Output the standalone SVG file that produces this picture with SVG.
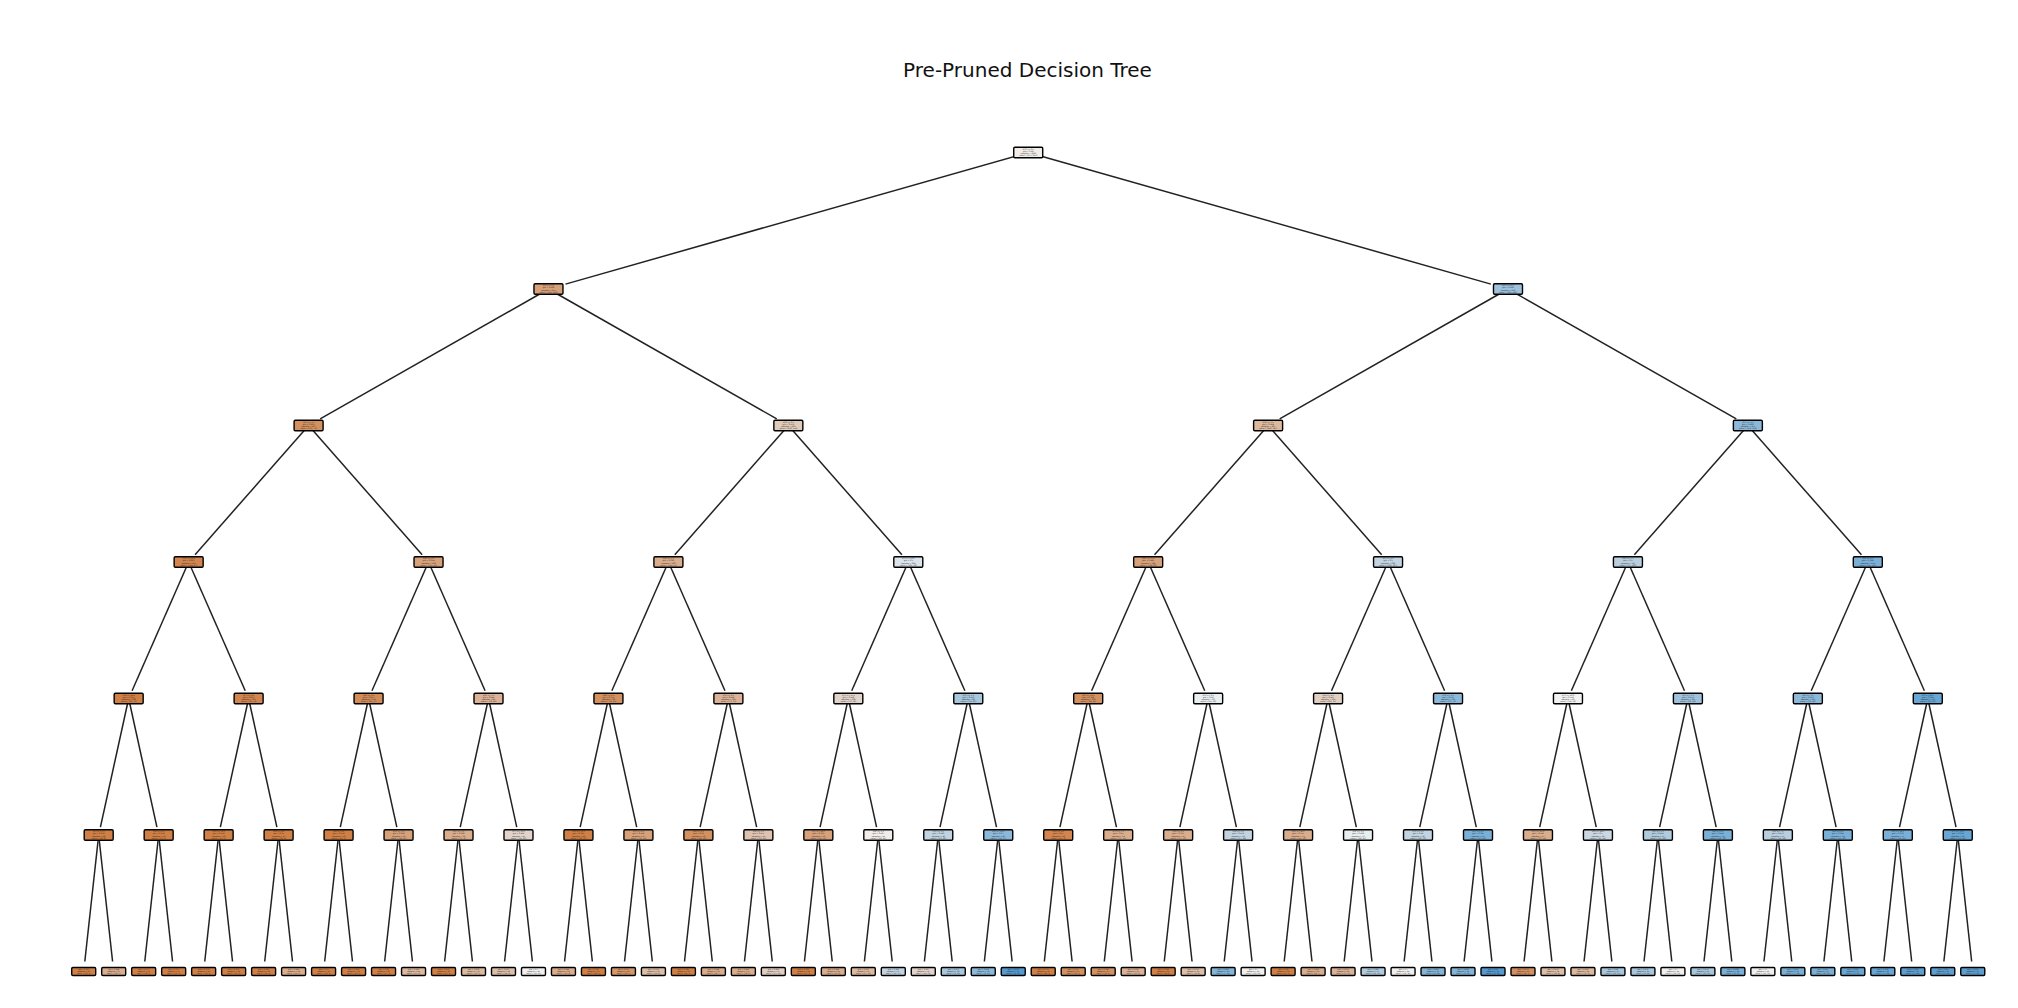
<svg xmlns="http://www.w3.org/2000/svg" xmlns:xlink="http://www.w3.org/1999/xlink" width="2018" height="1008" viewBox="0 0 2018 1008">
<style>
.title{font-family:"DejaVu Sans","Liberation Sans",sans-serif;font-size:20px;fill:#111;text-anchor:middle}
.ti{font-family:"DejaVu Sans","Liberation Sans",sans-serif;font-size:1.9px;fill:#1a1a1a;text-anchor:middle}
.tl{font-family:"DejaVu Sans","Liberation Sans",sans-serif;font-size:1.8px;fill:#1a1a1a;text-anchor:middle}
#connectors path{fill:none;stroke:#222;stroke-width:1.5}
</style>
<defs>
<rect id="ib" x="-14.5" y="-5.25" width="29" height="10.5" rx="1.2" stroke="#000" stroke-width="1.4"/>
<rect id="lb" x="-12" y="-4" width="24" height="8" rx="1.2" stroke="#000" stroke-width="1.4"/>
</defs>
<rect width="2018" height="1008" fill="#fff"/>
<text class="title" x="1027.5" y="76.5">Pre-Pruned Decision Tree</text>
<g id="connectors">
<path d="M1028.23 152.5L565.5 284.1"/><path d="M1028.23 152.5L1490.9 284.1"/>
<path d="M548.47 289L320.17 418.9"/><path d="M548.47 289L776.77 418.9"/><path d="M1507.99 289L1279.69 418.9"/><path d="M1507.99 289L1736.29 418.9"/>
<path d="M308.59 425.5L195.04 554.7"/><path d="M308.59 425.5L422.14 554.7"/><path d="M788.35 425.5L674.8 554.7"/><path d="M788.35 425.5L901.9 554.7"/><path d="M1268.11 425.5L1154.56 554.7"/><path d="M1268.11 425.5L1381.66 554.7"/><path d="M1747.87 425.5L1634.32 554.7"/><path d="M1747.87 425.5L1861.42 554.7"/>
<path d="M188.65 562L132.08 690.8"/><path d="M188.65 562L245.22 690.8"/><path d="M428.53 562L371.96 690.8"/><path d="M428.53 562L485.1 690.8"/><path d="M668.41 562L611.84 690.8"/><path d="M668.41 562L724.98 690.8"/><path d="M908.29 562L851.72 690.8"/><path d="M908.29 562L964.86 690.8"/><path d="M1148.17 562L1091.6 690.8"/><path d="M1148.17 562L1204.74 690.8"/><path d="M1388.05 562L1331.48 690.8"/><path d="M1388.05 562L1444.62 690.8"/><path d="M1627.93 562L1571.36 690.8"/><path d="M1627.93 562L1684.5 690.8"/><path d="M1867.81 562L1811.24 690.8"/><path d="M1867.81 562L1924.38 690.8"/>
<path d="M128.68 698.5L100.42 827.1"/><path d="M128.68 698.5L156.93 827.1"/><path d="M248.62 698.5L220.36 827.1"/><path d="M248.62 698.5L276.87 827.1"/><path d="M368.56 698.5L340.3 827.1"/><path d="M368.56 698.5L396.81 827.1"/><path d="M488.5 698.5L460.24 827.1"/><path d="M488.5 698.5L516.75 827.1"/><path d="M608.44 698.5L580.18 827.1"/><path d="M608.44 698.5L636.69 827.1"/><path d="M728.38 698.5L700.12 827.1"/><path d="M728.38 698.5L756.63 827.1"/><path d="M848.32 698.5L820.06 827.1"/><path d="M848.32 698.5L876.57 827.1"/><path d="M968.26 698.5L940 827.1"/><path d="M968.26 698.5L996.51 827.1"/><path d="M1088.2 698.5L1059.94 827.1"/><path d="M1088.2 698.5L1116.45 827.1"/><path d="M1208.14 698.5L1179.88 827.1"/><path d="M1208.14 698.5L1236.39 827.1"/><path d="M1328.08 698.5L1299.82 827.1"/><path d="M1328.08 698.5L1356.33 827.1"/><path d="M1448.02 698.5L1419.76 827.1"/><path d="M1448.02 698.5L1476.27 827.1"/><path d="M1567.96 698.5L1539.7 827.1"/><path d="M1567.96 698.5L1596.21 827.1"/><path d="M1687.9 698.5L1659.64 827.1"/><path d="M1687.9 698.5L1716.15 827.1"/><path d="M1807.84 698.5L1779.58 827.1"/><path d="M1807.84 698.5L1836.09 827.1"/><path d="M1927.78 698.5L1899.52 827.1"/><path d="M1927.78 698.5L1956.03 827.1"/>
<path d="M98.69 835L84.8 961.5"/><path d="M98.69 835L112.59 961.5"/><path d="M158.66 835L144.77 961.5"/><path d="M158.66 835L172.56 961.5"/><path d="M218.63 835L204.74 961.5"/><path d="M218.63 835L232.53 961.5"/><path d="M278.6 835L264.71 961.5"/><path d="M278.6 835L292.5 961.5"/><path d="M338.57 835L324.68 961.5"/><path d="M338.57 835L352.47 961.5"/><path d="M398.54 835L384.65 961.5"/><path d="M398.54 835L412.44 961.5"/><path d="M458.51 835L444.62 961.5"/><path d="M458.51 835L472.41 961.5"/><path d="M518.48 835L504.59 961.5"/><path d="M518.48 835L532.38 961.5"/>
<path d="M578.45 835L564.56 961.5"/><path d="M578.45 835L592.35 961.5"/><path d="M638.42 835L624.53 961.5"/><path d="M638.42 835L652.32 961.5"/><path d="M698.39 835L684.5 961.5"/><path d="M698.39 835L712.29 961.5"/><path d="M758.36 835L744.47 961.5"/><path d="M758.36 835L772.26 961.5"/><path d="M818.33 835L804.44 961.5"/><path d="M818.33 835L832.23 961.5"/><path d="M878.3 835L864.41 961.5"/><path d="M878.3 835L892.2 961.5"/><path d="M938.27 835L924.38 961.5"/><path d="M938.27 835L952.17 961.5"/><path d="M998.24 835L984.35 961.5"/><path d="M998.24 835L1012.14 961.5"/>
<path d="M1058.21 835L1044.32 961.5"/><path d="M1058.21 835L1072.11 961.5"/><path d="M1118.18 835L1104.29 961.5"/><path d="M1118.18 835L1132.08 961.5"/><path d="M1178.15 835L1164.26 961.5"/><path d="M1178.15 835L1192.05 961.5"/><path d="M1238.12 835L1224.23 961.5"/><path d="M1238.12 835L1252.02 961.5"/><path d="M1298.09 835L1284.2 961.5"/><path d="M1298.09 835L1311.99 961.5"/><path d="M1358.06 835L1344.17 961.5"/><path d="M1358.06 835L1371.96 961.5"/><path d="M1418.03 835L1404.14 961.5"/><path d="M1418.03 835L1431.93 961.5"/><path d="M1478 835L1464.11 961.5"/><path d="M1478 835L1491.9 961.5"/>
<path d="M1537.97 835L1524.08 961.5"/><path d="M1537.97 835L1551.87 961.5"/><path d="M1597.94 835L1584.05 961.5"/><path d="M1597.94 835L1611.84 961.5"/><path d="M1657.91 835L1644.02 961.5"/><path d="M1657.91 835L1671.81 961.5"/><path d="M1717.88 835L1703.99 961.5"/><path d="M1717.88 835L1731.78 961.5"/><path d="M1777.85 835L1763.96 961.5"/><path d="M1777.85 835L1791.75 961.5"/><path d="M1837.82 835L1823.93 961.5"/><path d="M1837.82 835L1851.72 961.5"/><path d="M1897.79 835L1883.9 961.5"/><path d="M1897.79 835L1911.69 961.5"/><path d="M1957.76 835L1943.87 961.5"/><path d="M1957.76 835L1971.66 961.5"/>
</g>
<g id="n1" transform="translate(1028.23 152.5)"><use href="#ib" fill="#f1ede9"/><text class="ti"><tspan x="0" y="-2.9">X[3] &lt;= 0.5</tspan><tspan x="0" y="-0.7">gini = 0.48</tspan><tspan x="0" y="1.5">samples = 1629</tspan><tspan x="0" y="3.7">value = [977, 652]</tspan></text></g>
<g id="n2" transform="translate(548.47 289)"><use href="#ib" fill="#d7a17a"/><text class="ti"><tspan x="0" y="-2.9">X[1] &lt;= 2.5</tspan><tspan x="0" y="-0.7">gini = 0.402</tspan><tspan x="0" y="1.5">samples = 811</tspan><tspan x="0" y="3.7">value = [585, 226]</tspan></text></g>
<g id="n3" transform="translate(1507.99 289)"><use href="#ib" fill="#9ec2dd"/><text class="ti"><tspan x="0" y="-2.9">X[0] &lt;= 41.5</tspan><tspan x="0" y="-0.7">gini = 0.499</tspan><tspan x="0" y="1.5">samples = 818</tspan><tspan x="0" y="3.7">value = [392, 426]</tspan></text></g>
<g id="n4" transform="translate(308.59 425.5)"><use href="#ib" fill="#d49160"/><text class="ti"><tspan x="0" y="-2.9">X[5] &lt;= 1.5</tspan><tspan x="0" y="-0.7">gini = 0.291</tspan><tspan x="0" y="1.5">samples = 407</tspan><tspan x="0" y="3.7">value = [335, 72]</tspan></text></g>
<g id="n5" transform="translate(788.35 425.5)"><use href="#ib" fill="#e0cab9"/><text class="ti"><tspan x="0" y="-2.9">X[2] &lt;= 0.5</tspan><tspan x="0" y="-0.7">gini = 0.472</tspan><tspan x="0" y="1.5">samples = 404</tspan><tspan x="0" y="3.7">value = [250, 154]</tspan></text></g>
<g id="n6" transform="translate(1268.11 425.5)"><use href="#ib" fill="#ddb99e"/><text class="ti"><tspan x="0" y="-2.9">X[4] &lt;= 3.5</tspan><tspan x="0" y="-0.7">gini = 0.484</tspan><tspan x="0" y="1.5">samples = 407</tspan><tspan x="0" y="3.7">value = [240, 167]</tspan></text></g>
<g id="n7" transform="translate(1747.87 425.5)"><use href="#ib" fill="#8cb9da"/><text class="ti"><tspan x="0" y="-2.9">X[1] &lt;= 4.5</tspan><tspan x="0" y="-0.7">gini = 0.466</tspan><tspan x="0" y="1.5">samples = 411</tspan><tspan x="0" y="3.7">value = [152, 259]</tspan></text></g>
<g id="n8" transform="translate(188.65 562)"><use href="#ib" fill="#d2854e"/><text class="ti"><tspan x="0" y="-2.9">X[0] &lt;= 28.5</tspan><tspan x="0" y="-0.7">gini = 0.223</tspan><tspan x="0" y="1.5">samples = 211</tspan><tspan x="0" y="3.7">value = [184, 27]</tspan></text></g>
<g id="n9" transform="translate(428.53 562)"><use href="#ib" fill="#d7a17a"/><text class="ti"><tspan x="0" y="-2.9">X[6] &lt;= 0.5</tspan><tspan x="0" y="-0.7">gini = 0.354</tspan><tspan x="0" y="1.5">samples = 196</tspan><tspan x="0" y="3.7">value = [151, 45]</tspan></text></g>
<g id="n10" transform="translate(668.41 562)"><use href="#ib" fill="#daad8c"/><text class="ti"><tspan x="0" y="-2.9">X[2] &lt;= 1.5</tspan><tspan x="0" y="-0.7">gini = 0.399</tspan><tspan x="0" y="1.5">samples = 200</tspan><tspan x="0" y="3.7">value = [145, 55]</tspan></text></g>
<g id="n11" transform="translate(908.29 562)"><use href="#ib" fill="#dbe4ea"/><text class="ti"><tspan x="0" y="-2.9">X[7] &lt;= 12.0</tspan><tspan x="0" y="-0.7">gini = 0.5</tspan><tspan x="0" y="1.5">samples = 204</tspan><tspan x="0" y="3.7">value = [105, 99]</tspan></text></g>
<g id="n12" transform="translate(1148.17 562)"><use href="#ib" fill="#d7a17a"/><text class="ti"><tspan x="0" y="-2.9">X[0] &lt;= 35.5</tspan><tspan x="0" y="-0.7">gini = 0.422</tspan><tspan x="0" y="1.5">samples = 198</tspan><tspan x="0" y="3.7">value = [138, 60]</tspan></text></g>
<g id="n13" transform="translate(1388.05 562)"><use href="#ib" fill="#c2d4e1"/><text class="ti"><tspan x="0" y="-2.9">X[5] &lt;= 2.5</tspan><tspan x="0" y="-0.7">gini = 0.5</tspan><tspan x="0" y="1.5">samples = 209</tspan><tspan x="0" y="3.7">value = [102, 107]</tspan></text></g>
<g id="n14" transform="translate(1627.93 562)"><use href="#ib" fill="#b9cfe0"/><text class="ti"><tspan x="0" y="-2.9">X[6] &lt;= 1.5</tspan><tspan x="0" y="-0.7">gini = 0.5</tspan><tspan x="0" y="1.5">samples = 197</tspan><tspan x="0" y="3.7">value = [97, 100]</tspan></text></g>
<g id="n15" transform="translate(1867.81 562)"><use href="#ib" fill="#7ab0d7"/><text class="ti"><tspan x="0" y="-2.9">X[4] &lt;= 6.5</tspan><tspan x="0" y="-0.7">gini = 0.382</tspan><tspan x="0" y="1.5">samples = 214</tspan><tspan x="0" y="3.7">value = [55, 159]</tspan></text></g>
<g id="n16" transform="translate(128.68 698.5)"><use href="#ib" fill="#d18045"/><text class="ti"><tspan x="0" y="-2.9">X[0] &lt;= 24.5</tspan><tspan x="0" y="-0.7">gini = 0.215</tspan><tspan x="0" y="1.5">samples = 106</tspan><tspan x="0" y="3.7">value = [93, 13]</tspan></text></g>
<g id="n17" transform="translate(248.62 698.5)"><use href="#ib" fill="#d2854e"/><text class="ti"><tspan x="0" y="-2.9">X[7] &lt;= 8.5</tspan><tspan x="0" y="-0.7">gini = 0.231</tspan><tspan x="0" y="1.5">samples = 105</tspan><tspan x="0" y="3.7">value = [91, 14]</tspan></text></g>
<g id="n18" transform="translate(368.56 698.5)"><use href="#ib" fill="#d38b57"/><text class="ti"><tspan x="0" y="-2.9">X[2] &lt;= 2.5</tspan><tspan x="0" y="-0.7">gini = 0.257</tspan><tspan x="0" y="1.5">samples = 112</tspan><tspan x="0" y="3.7">value = [95, 17]</tspan></text></g>
<g id="n19" transform="translate(488.5 698.5)"><use href="#ib" fill="#dbb295"/><text class="ti"><tspan x="0" y="-2.9">X[4] &lt;= 1.5</tspan><tspan x="0" y="-0.7">gini = 0.444</tspan><tspan x="0" y="1.5">samples = 84</tspan><tspan x="0" y="3.7">value = [56, 28]</tspan></text></g>
<g id="n20" transform="translate(608.44 698.5)"><use href="#ib" fill="#d49160"/><text class="ti"><tspan x="0" y="-2.9">X[6] &lt;= 2.5</tspan><tspan x="0" y="-0.7">gini = 0.375</tspan><tspan x="0" y="1.5">samples = 96</tspan><tspan x="0" y="3.7">value = [72, 24]</tspan></text></g>
<g id="n21" transform="translate(728.38 698.5)"><use href="#ib" fill="#dbb295"/><text class="ti"><tspan x="0" y="-2.9">X[1] &lt;= 0.5</tspan><tspan x="0" y="-0.7">gini = 0.418</tspan><tspan x="0" y="1.5">samples = 104</tspan><tspan x="0" y="3.7">value = [73, 31]</tspan></text></g>
<g id="n22" transform="translate(848.32 698.5)"><use href="#ib" fill="#e2d4cb"/><text class="ti"><tspan x="0" y="-2.9">X[7] &lt;= 15.5</tspan><tspan x="0" y="-0.7">gini = 0.449</tspan><tspan x="0" y="1.5">samples = 106</tspan><tspan x="0" y="3.7">value = [70, 36]</tspan></text></g>
<g id="n23" transform="translate(968.26 698.5)"><use href="#ib" fill="#a7c7dd"/><text class="ti"><tspan x="0" y="-2.9">X[3] &lt;= 1.5</tspan><tspan x="0" y="-0.7">gini = 0.459</tspan><tspan x="0" y="1.5">samples = 98</tspan><tspan x="0" y="3.7">value = [35, 63]</tspan></text></g>
<g id="n24" transform="translate(1088.2 698.5)"><use href="#ib" fill="#d49160"/><text class="ti"><tspan x="0" y="-2.9">X[0] &lt;= 52.5</tspan><tspan x="0" y="-0.7">gini = 0.346</tspan><tspan x="0" y="1.5">samples = 108</tspan><tspan x="0" y="3.7">value = [84, 24]</tspan></text></g>
<g id="n25" transform="translate(1208.14 698.5)"><use href="#ib" fill="#e9eef1"/><text class="ti"><tspan x="0" y="-2.9">X[5] &lt;= 0.5</tspan><tspan x="0" y="-0.7">gini = 0.48</tspan><tspan x="0" y="1.5">samples = 90</tspan><tspan x="0" y="3.7">value = [54, 36]</tspan></text></g>
<g id="n26" transform="translate(1328.08 698.5)"><use href="#ib" fill="#e1cfc2"/><text class="ti"><tspan x="0" y="-2.9">X[4] &lt;= 4.5</tspan><tspan x="0" y="-0.7">gini = 0.447</tspan><tspan x="0" y="1.5">samples = 104</tspan><tspan x="0" y="3.7">value = [69, 35]</tspan></text></g>
<g id="n27" transform="translate(1448.02 698.5)"><use href="#ib" fill="#8cb9da"/><text class="ti"><tspan x="0" y="-2.9">X[2] &lt;= 3.5</tspan><tspan x="0" y="-0.7">gini = 0.431</tspan><tspan x="0" y="1.5">samples = 105</tspan><tspan x="0" y="3.7">value = [33, 72]</tspan></text></g>
<g id="n28" transform="translate(1567.96 698.5)"><use href="#ib" fill="#f2f2f2"/><text class="ti"><tspan x="0" y="-2.9">X[7] &lt;= 20.0</tspan><tspan x="0" y="-0.7">gini = 0.478</tspan><tspan x="0" y="1.5">samples = 96</tspan><tspan x="0" y="3.7">value = [58, 38]</tspan></text></g>
<g id="n29" transform="translate(1687.9 698.5)"><use href="#ib" fill="#9ec2dd"/><text class="ti"><tspan x="0" y="-2.9">X[1] &lt;= 3.5</tspan><tspan x="0" y="-0.7">gini = 0.474</tspan><tspan x="0" y="1.5">samples = 101</tspan><tspan x="0" y="3.7">value = [39, 62]</tspan></text></g>
<g id="n30" transform="translate(1807.84 698.5)"><use href="#ib" fill="#8cb9da"/><text class="ti"><tspan x="0" y="-2.9">X[6] &lt;= 3.5</tspan><tspan x="0" y="-0.7">gini = 0.433</tspan><tspan x="0" y="1.5">samples = 101</tspan><tspan x="0" y="3.7">value = [32, 69]</tspan></text></g>
<g id="n31" transform="translate(1927.78 698.5)"><use href="#ib" fill="#68a7d5"/><text class="ti"><tspan x="0" y="-2.9">X[0] &lt;= 60.5</tspan><tspan x="0" y="-0.7">gini = 0.324</tspan><tspan x="0" y="1.5">samples = 113</tspan><tspan x="0" y="3.7">value = [23, 90]</tspan></text></g>
<g id="n32" transform="translate(98.69 835)"><use href="#ib" fill="#d18045"/><text class="ti"><tspan x="0" y="-2.9">X[7] &lt;= 5.5</tspan><tspan x="0" y="-0.7">gini = 0.278</tspan><tspan x="0" y="1.5">samples = 48</tspan><tspan x="0" y="3.7">value = [40, 8]</tspan></text></g>
<g id="n33" transform="translate(158.66 835)"><use href="#ib" fill="#d18045"/><text class="ti"><tspan x="0" y="-2.9">X[4] &lt;= 2.5</tspan><tspan x="0" y="-0.7">gini = 0.158</tspan><tspan x="0" y="1.5">samples = 58</tspan><tspan x="0" y="3.7">value = [53, 5]</tspan></text></g>
<g id="n34" transform="translate(218.63 835)"><use href="#ib" fill="#d18045"/><text class="ti"><tspan x="0" y="-2.9">X[0] &lt;= 19.5</tspan><tspan x="0" y="-0.7">gini = 0.158</tspan><tspan x="0" y="1.5">samples = 58</tspan><tspan x="0" y="3.7">value = [53, 5]</tspan></text></g>
<g id="n35" transform="translate(278.6 835)"><use href="#ib" fill="#d18045"/><text class="ti"><tspan x="0" y="-2.9">X[2] &lt;= 4.5</tspan><tspan x="0" y="-0.7">gini = 0.31</tspan><tspan x="0" y="1.5">samples = 47</tspan><tspan x="0" y="3.7">value = [38, 9]</tspan></text></g>
<g id="n36" transform="translate(338.57 835)"><use href="#ib" fill="#d18045"/><text class="ti"><tspan x="0" y="-2.9">X[6] &lt;= 4.5</tspan><tspan x="0" y="-0.7">gini = 0.158</tspan><tspan x="0" y="1.5">samples = 58</tspan><tspan x="0" y="3.7">value = [53, 5]</tspan></text></g>
<g id="n37" transform="translate(398.54 835)"><use href="#ib" fill="#d7a17a"/><text class="ti"><tspan x="0" y="-2.9">X[5] &lt;= 3.5</tspan><tspan x="0" y="-0.7">gini = 0.346</tspan><tspan x="0" y="1.5">samples = 54</tspan><tspan x="0" y="3.7">value = [42, 12]</tspan></text></g>
<g id="n38" transform="translate(458.51 835)"><use href="#ib" fill="#daad8c"/><text class="ti"><tspan x="0" y="-2.9">X[1] &lt;= 1.5</tspan><tspan x="0" y="-0.7">gini = 0.326</tspan><tspan x="0" y="1.5">samples = 39</tspan><tspan x="0" y="3.7">value = [31, 8]</tspan></text></g>
<g id="n39" transform="translate(518.48 835)"><use href="#ib" fill="#e2d4cb"/><text class="ti"><tspan x="0" y="-2.9">X[7] &lt;= 10.5</tspan><tspan x="0" y="-0.7">gini = 0.494</tspan><tspan x="0" y="1.5">samples = 45</tspan><tspan x="0" y="3.7">value = [25, 20]</tspan></text></g>
<g id="n40" transform="translate(578.45 835)"><use href="#ib" fill="#d18045"/><text class="ti"><tspan x="0" y="-2.9">X[0] &lt;= 31.5</tspan><tspan x="0" y="-0.7">gini = 0.325</tspan><tspan x="0" y="1.5">samples = 49</tspan><tspan x="0" y="3.7">value = [39, 10]</tspan></text></g>
<g id="n41" transform="translate(638.42 835)"><use href="#ib" fill="#d7a17a"/><text class="ti"><tspan x="0" y="-2.9">X[3] &lt;= 2.5</tspan><tspan x="0" y="-0.7">gini = 0.418</tspan><tspan x="0" y="1.5">samples = 47</tspan><tspan x="0" y="3.7">value = [33, 14]</tspan></text></g>
<g id="n42" transform="translate(698.39 835)"><use href="#ib" fill="#d49160"/><text class="ti"><tspan x="0" y="-2.9">X[4] &lt;= 0.5</tspan><tspan x="0" y="-0.7">gini = 0.32</tspan><tspan x="0" y="1.5">samples = 50</tspan><tspan x="0" y="3.7">value = [40, 10]</tspan></text></g>
<g id="n43" transform="translate(758.36 835)"><use href="#ib" fill="#dec3b0"/><text class="ti"><tspan x="0" y="-2.9">X[2] &lt;= 5.5</tspan><tspan x="0" y="-0.7">gini = 0.475</tspan><tspan x="0" y="1.5">samples = 54</tspan><tspan x="0" y="3.7">value = [33, 21]</tspan></text></g>
<g id="n44" transform="translate(818.33 835)"><use href="#ib" fill="#d7a17a"/><text class="ti"><tspan x="0" y="-2.9">X[7] &lt;= 18.0</tspan><tspan x="0" y="-0.7">gini = 0.334</tspan><tspan x="0" y="1.5">samples = 52</tspan><tspan x="0" y="3.7">value = [41, 11]</tspan></text></g>
<g id="n45" transform="translate(878.3 835)"><use href="#ib" fill="#f1ede9"/><text class="ti"><tspan x="0" y="-2.9">X[6] &lt;= 5.5</tspan><tspan x="0" y="-0.7">gini = 0.497</tspan><tspan x="0" y="1.5">samples = 54</tspan><tspan x="0" y="3.7">value = [29, 25]</tspan></text></g>
<g id="n46" transform="translate(938.27 835)"><use href="#ib" fill="#c2d4e1"/><text class="ti"><tspan x="0" y="-2.9">X[1] &lt;= 5.5</tspan><tspan x="0" y="-0.7">gini = 0.498</tspan><tspan x="0" y="1.5">samples = 49</tspan><tspan x="0" y="3.7">value = [23, 26]</tspan></text></g>
<g id="n47" transform="translate(998.24 835)"><use href="#ib" fill="#8cb9da"/><text class="ti"><tspan x="0" y="-2.9">X[0] &lt;= 45.5</tspan><tspan x="0" y="-0.7">gini = 0.37</tspan><tspan x="0" y="1.5">samples = 49</tspan><tspan x="0" y="3.7">value = [12, 37]</tspan></text></g>
<g id="n48" transform="translate(1058.21 835)"><use href="#ib" fill="#d2854e"/><text class="ti"><tspan x="0" y="-2.9">X[5] &lt;= 4.5</tspan><tspan x="0" y="-0.7">gini = 0.27</tspan><tspan x="0" y="1.5">samples = 56</tspan><tspan x="0" y="3.7">value = [47, 9]</tspan></text></g>
<g id="n49" transform="translate(1118.18 835)"><use href="#ib" fill="#daad8c"/><text class="ti"><tspan x="0" y="-2.9">X[7] &lt;= 7.0</tspan><tspan x="0" y="-0.7">gini = 0.41</tspan><tspan x="0" y="1.5">samples = 52</tspan><tspan x="0" y="3.7">value = [37, 15]</tspan></text></g>
<g id="n50" transform="translate(1178.15 835)"><use href="#ib" fill="#daad8c"/><text class="ti"><tspan x="0" y="-2.9">X[2] &lt;= 0.5</tspan><tspan x="0" y="-0.7">gini = 0.335</tspan><tspan x="0" y="1.5">samples = 47</tspan><tspan x="0" y="3.7">value = [37, 10]</tspan></text></g>
<g id="n51" transform="translate(1238.12 835)"><use href="#ib" fill="#c2d4e1"/><text class="ti"><tspan x="0" y="-2.9">X[4] &lt;= 5.5</tspan><tspan x="0" y="-0.7">gini = 0.478</tspan><tspan x="0" y="1.5">samples = 43</tspan><tspan x="0" y="3.7">value = [17, 26]</tspan></text></g>
<g id="n52" transform="translate(1298.09 835)"><use href="#ib" fill="#daad8c"/><text class="ti"><tspan x="0" y="-2.9">X[0] &lt;= 38.5</tspan><tspan x="0" y="-0.7">gini = 0.315</tspan><tspan x="0" y="1.5">samples = 51</tspan><tspan x="0" y="3.7">value = [41, 10]</tspan></text></g>
<g id="n53" transform="translate(1358.06 835)"><use href="#ib" fill="#e9eef1"/><text class="ti"><tspan x="0" y="-2.9">X[6] &lt;= 0.5</tspan><tspan x="0" y="-0.7">gini = 0.498</tspan><tspan x="0" y="1.5">samples = 53</tspan><tspan x="0" y="3.7">value = [28, 25]</tspan></text></g>
<g id="n54" transform="translate(1418.03 835)"><use href="#ib" fill="#c2d4e1"/><text class="ti"><tspan x="0" y="-2.9">X[3] &lt;= 0.5</tspan><tspan x="0" y="-0.7">gini = 0.48</tspan><tspan x="0" y="1.5">samples = 50</tspan><tspan x="0" y="3.7">value = [20, 30]</tspan></text></g>
<g id="n55" transform="translate(1478 835)"><use href="#ib" fill="#7ab0d7"/><text class="ti"><tspan x="0" y="-2.9">X[1] &lt;= 2.5</tspan><tspan x="0" y="-0.7">gini = 0.361</tspan><tspan x="0" y="1.5">samples = 55</tspan><tspan x="0" y="3.7">value = [13, 42]</tspan></text></g>
<g id="n56" transform="translate(1537.97 835)"><use href="#ib" fill="#daad8c"/><text class="ti"><tspan x="0" y="-2.9">X[7] &lt;= 25.0</tspan><tspan x="0" y="-0.7">gini = 0.418</tspan><tspan x="0" y="1.5">samples = 47</tspan><tspan x="0" y="3.7">value = [33, 14]</tspan></text></g>
<g id="n57" transform="translate(1597.94 835)"><use href="#ib" fill="#cbd8e2"/><text class="ti"><tspan x="0" y="-2.9">X[0] &lt;= 48.5</tspan><tspan x="0" y="-0.7">gini = 0.5</tspan><tspan x="0" y="1.5">samples = 49</tspan><tspan x="0" y="3.7">value = [25, 24]</tspan></text></g>
<g id="n58" transform="translate(1657.91 835)"><use href="#ib" fill="#b0cbde"/><text class="ti"><tspan x="0" y="-2.9">X[5] &lt;= 1.5</tspan><tspan x="0" y="-0.7">gini = 0.494</tspan><tspan x="0" y="1.5">samples = 47</tspan><tspan x="0" y="3.7">value = [21, 26]</tspan></text></g>
<g id="n59" transform="translate(1717.88 835)"><use href="#ib" fill="#7ab0d7"/><text class="ti"><tspan x="0" y="-2.9">X[2] &lt;= 6.5</tspan><tspan x="0" y="-0.7">gini = 0.444</tspan><tspan x="0" y="1.5">samples = 54</tspan><tspan x="0" y="3.7">value = [18, 36]</tspan></text></g>
<g id="n60" transform="translate(1777.85 835)"><use href="#ib" fill="#b9cfe0"/><text class="ti"><tspan x="0" y="-2.9">X[4] &lt;= 7.5</tspan><tspan x="0" y="-0.7">gini = 0.473</tspan><tspan x="0" y="1.5">samples = 47</tspan><tspan x="0" y="3.7">value = [18, 29]</tspan></text></g>
<g id="n61" transform="translate(1837.82 835)"><use href="#ib" fill="#7ab0d7"/><text class="ti"><tspan x="0" y="-2.9">X[6] &lt;= 6.5</tspan><tspan x="0" y="-0.7">gini = 0.384</tspan><tspan x="0" y="1.5">samples = 54</tspan><tspan x="0" y="3.7">value = [14, 40]</tspan></text></g>
<g id="n62" transform="translate(1897.79 835)"><use href="#ib" fill="#7ab0d7"/><text class="ti"><tspan x="0" y="-2.9">X[0] &lt;= 56.5</tspan><tspan x="0" y="-0.7">gini = 0.332</tspan><tspan x="0" y="1.5">samples = 57</tspan><tspan x="0" y="3.7">value = [12, 45]</tspan></text></g>
<g id="n63" transform="translate(1957.76 835)"><use href="#ib" fill="#68a7d5"/><text class="ti"><tspan x="0" y="-2.9">X[7] &lt;= 30.0</tspan><tspan x="0" y="-0.7">gini = 0.316</tspan><tspan x="0" y="1.5">samples = 56</tspan><tspan x="0" y="3.7">value = [11, 45]</tspan></text></g>
<g id="n64" transform="translate(83.7 971.5)"><use href="#lb" fill="#d18045"/><text class="tl"><tspan x="0" y="-1.6">gini = 0.165</tspan><tspan x="0" y="0.4">samples = 33</tspan><tspan x="0" y="2.4">value = [30, 3]</tspan></text></g>
<g id="n65" transform="translate(113.69 971.5)"><use href="#lb" fill="#daad8c"/><text class="tl"><tspan x="0" y="-1.6">gini = 0.444</tspan><tspan x="0" y="0.4">samples = 15</tspan><tspan x="0" y="2.4">value = [10, 5]</tspan></text></g>
<g id="n66" transform="translate(143.67 971.5)"><use href="#lb" fill="#d18045"/><text class="tl"><tspan x="0" y="-1.6">gini = 0.175</tspan><tspan x="0" y="0.4">samples = 31</tspan><tspan x="0" y="2.4">value = [28, 3]</tspan></text></g>
<g id="n67" transform="translate(173.66 971.5)"><use href="#lb" fill="#d18045"/><text class="tl"><tspan x="0" y="-1.6">gini = 0.137</tspan><tspan x="0" y="0.4">samples = 27</tspan><tspan x="0" y="2.4">value = [25, 2]</tspan></text></g>
<g id="n68" transform="translate(203.64 971.5)"><use href="#lb" fill="#d18045"/><text class="tl"><tspan x="0" y="-1.6">gini = 0.153</tspan><tspan x="0" y="0.4">samples = 24</tspan><tspan x="0" y="2.4">value = [22, 2]</tspan></text></g>
<g id="n69" transform="translate(233.63 971.5)"><use href="#lb" fill="#d18045"/><text class="tl"><tspan x="0" y="-1.6">gini = 0.161</tspan><tspan x="0" y="0.4">samples = 34</tspan><tspan x="0" y="2.4">value = [31, 3]</tspan></text></g>
<g id="n70" transform="translate(263.61 971.5)"><use href="#lb" fill="#d18045"/><text class="tl"><tspan x="0" y="-1.6">gini = 0.185</tspan><tspan x="0" y="0.4">samples = 29</tspan><tspan x="0" y="2.4">value = [26, 3]</tspan></text></g>
<g id="n71" transform="translate(293.6 971.5)"><use href="#lb" fill="#daad8c"/><text class="tl"><tspan x="0" y="-1.6">gini = 0.444</tspan><tspan x="0" y="0.4">samples = 18</tspan><tspan x="0" y="2.4">value = [12, 6]</tspan></text></g>
<g id="n72" transform="translate(323.58 971.5)"><use href="#lb" fill="#d18045"/><text class="tl"><tspan x="0" y="-1.6">gini = 0.17</tspan><tspan x="0" y="0.4">samples = 32</tspan><tspan x="0" y="2.4">value = [29, 3]</tspan></text></g>
<g id="n73" transform="translate(353.57 971.5)"><use href="#lb" fill="#d18045"/><text class="tl"><tspan x="0" y="-1.6">gini = 0.142</tspan><tspan x="0" y="0.4">samples = 26</tspan><tspan x="0" y="2.4">value = [24, 2]</tspan></text></g>
<g id="n74" transform="translate(383.55 971.5)"><use href="#lb" fill="#d18045"/><text class="tl"><tspan x="0" y="-1.6">gini = 0.18</tspan><tspan x="0" y="0.4">samples = 30</tspan><tspan x="0" y="2.4">value = [27, 3]</tspan></text></g>
<g id="n75" transform="translate(413.54 971.5)"><use href="#lb" fill="#ddb99e"/><text class="tl"><tspan x="0" y="-1.6">gini = 0.469</tspan><tspan x="0" y="0.4">samples = 24</tspan><tspan x="0" y="2.4">value = [15, 9]</tspan></text></g>
<g id="n76" transform="translate(443.52 971.5)"><use href="#lb" fill="#d18045"/><text class="tl"><tspan x="0" y="-1.6">gini = 0.159</tspan><tspan x="0" y="0.4">samples = 23</tspan><tspan x="0" y="2.4">value = [21, 2]</tspan></text></g>
<g id="n77" transform="translate(473.51 971.5)"><use href="#lb" fill="#ddb99e"/><text class="tl"><tspan x="0" y="-1.6">gini = 0.469</tspan><tspan x="0" y="0.4">samples = 16</tspan><tspan x="0" y="2.4">value = [10, 6]</tspan></text></g>
<g id="n78" transform="translate(503.49 971.5)"><use href="#lb" fill="#ddbea7"/><text class="tl"><tspan x="0" y="-1.6">gini = 0.476</tspan><tspan x="0" y="0.4">samples = 23</tspan><tspan x="0" y="2.4">value = [14, 9]</tspan></text></g>
<g id="n79" transform="translate(533.48 971.5)"><use href="#lb" fill="#f1f0ef"/><text class="tl"><tspan x="0" y="-1.6">gini = 0.5</tspan><tspan x="0" y="0.4">samples = 22</tspan><tspan x="0" y="2.4">value = [11, 11]</tspan></text></g>
<g id="n80" transform="translate(563.46 971.5)"><use href="#lb" fill="#daad8c"/><text class="tl"><tspan x="0" y="-1.6">gini = 0.444</tspan><tspan x="0" y="0.4">samples = 24</tspan><tspan x="0" y="2.4">value = [16, 8]</tspan></text></g>
<g id="n81" transform="translate(593.45 971.5)"><use href="#lb" fill="#d18045"/><text class="tl"><tspan x="0" y="-1.6">gini = 0.147</tspan><tspan x="0" y="0.4">samples = 25</tspan><tspan x="0" y="2.4">value = [23, 2]</tspan></text></g>
<g id="n82" transform="translate(623.43 971.5)"><use href="#lb" fill="#d59668"/><text class="tl"><tspan x="0" y="-1.6">gini = 0.355</tspan><tspan x="0" y="0.4">samples = 26</tspan><tspan x="0" y="2.4">value = [20, 6]</tspan></text></g>
<g id="n83" transform="translate(653.42 971.5)"><use href="#lb" fill="#ddbea7"/><text class="tl"><tspan x="0" y="-1.6">gini = 0.472</tspan><tspan x="0" y="0.4">samples = 21</tspan><tspan x="0" y="2.4">value = [13, 8]</tspan></text></g>
<g id="n84" transform="translate(683.4 971.5)"><use href="#lb" fill="#d18045"/><text class="tl"><tspan x="0" y="-1.6">gini = 0.185</tspan><tspan x="0" y="0.4">samples = 29</tspan><tspan x="0" y="2.4">value = [26, 3]</tspan></text></g>
<g id="n85" transform="translate(713.39 971.5)"><use href="#lb" fill="#daad8c"/><text class="tl"><tspan x="0" y="-1.6">gini = 0.444</tspan><tspan x="0" y="0.4">samples = 21</tspan><tspan x="0" y="2.4">value = [14, 7]</tspan></text></g>
<g id="n86" transform="translate(743.37 971.5)"><use href="#lb" fill="#daad8c"/><text class="tl"><tspan x="0" y="-1.6">gini = 0.444</tspan><tspan x="0" y="0.4">samples = 27</tspan><tspan x="0" y="2.4">value = [18, 9]</tspan></text></g>
<g id="n87" transform="translate(773.36 971.5)"><use href="#lb" fill="#e1cfc2"/><text class="tl"><tspan x="0" y="-1.6">gini = 0.494</tspan><tspan x="0" y="0.4">samples = 27</tspan><tspan x="0" y="2.4">value = [15, 12]</tspan></text></g>
<g id="n88" transform="translate(803.34 971.5)"><use href="#lb" fill="#d18045"/><text class="tl"><tspan x="0" y="-1.6">gini = 0.191</tspan><tspan x="0" y="0.4">samples = 28</tspan><tspan x="0" y="2.4">value = [25, 3]</tspan></text></g>
<g id="n89" transform="translate(833.33 971.5)"><use href="#lb" fill="#daad8c"/><text class="tl"><tspan x="0" y="-1.6">gini = 0.444</tspan><tspan x="0" y="0.4">samples = 24</tspan><tspan x="0" y="2.4">value = [16, 8]</tspan></text></g>
<g id="n90" transform="translate(863.31 971.5)"><use href="#lb" fill="#ddb99e"/><text class="tl"><tspan x="0" y="-1.6">gini = 0.466</tspan><tspan x="0" y="0.4">samples = 27</tspan><tspan x="0" y="2.4">value = [17, 10]</tspan></text></g>
<g id="n91" transform="translate(893.3 971.5)"><use href="#lb" fill="#c2d4e1"/><text class="tl"><tspan x="0" y="-1.6">gini = 0.494</tspan><tspan x="0" y="0.4">samples = 27</tspan><tspan x="0" y="2.4">value = [12, 15]</tspan></text></g>
<g id="n92" transform="translate(923.28 971.5)"><use href="#lb" fill="#e2d4cb"/><text class="tl"><tspan x="0" y="-1.6">gini = 0.497</tspan><tspan x="0" y="0.4">samples = 26</tspan><tspan x="0" y="2.4">value = [14, 12]</tspan></text></g>
<g id="n93" transform="translate(953.27 971.5)"><use href="#lb" fill="#a7c7dd"/><text class="tl"><tspan x="0" y="-1.6">gini = 0.476</tspan><tspan x="0" y="0.4">samples = 23</tspan><tspan x="0" y="2.4">value = [9, 14]</tspan></text></g>
<g id="n94" transform="translate(983.25 971.5)"><use href="#lb" fill="#8cb9da"/><text class="tl"><tspan x="0" y="-1.6">gini = 0.444</tspan><tspan x="0" y="0.4">samples = 24</tspan><tspan x="0" y="2.4">value = [8, 16]</tspan></text></g>
<g id="n95" transform="translate(1013.24 971.5)"><use href="#lb" fill="#569ad0"/><text class="tl"><tspan x="0" y="-1.6">gini = 0.269</tspan><tspan x="0" y="0.4">samples = 25</tspan><tspan x="0" y="2.4">value = [4, 21]</tspan></text></g>
<g id="n96" transform="translate(1043.22 971.5)"><use href="#lb" fill="#d18045"/><text class="tl"><tspan x="0" y="-1.6">gini = 0.175</tspan><tspan x="0" y="0.4">samples = 31</tspan><tspan x="0" y="2.4">value = [28, 3]</tspan></text></g>
<g id="n97" transform="translate(1073.21 971.5)"><use href="#lb" fill="#d49160"/><text class="tl"><tspan x="0" y="-1.6">gini = 0.365</tspan><tspan x="0" y="0.4">samples = 25</tspan><tspan x="0" y="2.4">value = [19, 6]</tspan></text></g>
<g id="n98" transform="translate(1103.19 971.5)"><use href="#lb" fill="#d49160"/><text class="tl"><tspan x="0" y="-1.6">gini = 0.346</tspan><tspan x="0" y="0.4">samples = 27</tspan><tspan x="0" y="2.4">value = [21, 6]</tspan></text></g>
<g id="n99" transform="translate(1133.18 971.5)"><use href="#lb" fill="#dbb295"/><text class="tl"><tspan x="0" y="-1.6">gini = 0.461</tspan><tspan x="0" y="0.4">samples = 25</tspan><tspan x="0" y="2.4">value = [16, 9]</tspan></text></g>
<g id="n100" transform="translate(1163.16 971.5)"><use href="#lb" fill="#d18045"/><text class="tl"><tspan x="0" y="-1.6">gini = 0.142</tspan><tspan x="0" y="0.4">samples = 26</tspan><tspan x="0" y="2.4">value = [24, 2]</tspan></text></g>
<g id="n101" transform="translate(1193.15 971.5)"><use href="#lb" fill="#ddbea7"/><text class="tl"><tspan x="0" y="-1.6">gini = 0.472</tspan><tspan x="0" y="0.4">samples = 21</tspan><tspan x="0" y="2.4">value = [13, 8]</tspan></text></g>
<g id="n102" transform="translate(1223.13 971.5)"><use href="#lb" fill="#83b5d9"/><text class="tl"><tspan x="0" y="-1.6">gini = 0.423</tspan><tspan x="0" y="0.4">samples = 23</tspan><tspan x="0" y="2.4">value = [7, 16]</tspan></text></g>
<g id="n103" transform="translate(1253.12 971.5)"><use href="#lb" fill="#f1f0ef"/><text class="tl"><tspan x="0" y="-1.6">gini = 0.5</tspan><tspan x="0" y="0.4">samples = 20</tspan><tspan x="0" y="2.4">value = [10, 10]</tspan></text></g>
<g id="n104" transform="translate(1283.1 971.5)"><use href="#lb" fill="#d18045"/><text class="tl"><tspan x="0" y="-1.6">gini = 0.18</tspan><tspan x="0" y="0.4">samples = 30</tspan><tspan x="0" y="2.4">value = [27, 3]</tspan></text></g>
<g id="n105" transform="translate(1313.09 971.5)"><use href="#lb" fill="#daad8c"/><text class="tl"><tspan x="0" y="-1.6">gini = 0.444</tspan><tspan x="0" y="0.4">samples = 21</tspan><tspan x="0" y="2.4">value = [14, 7]</tspan></text></g>
<g id="n106" transform="translate(1343.07 971.5)"><use href="#lb" fill="#dbb295"/><text class="tl"><tspan x="0" y="-1.6">gini = 0.453</tspan><tspan x="0" y="0.4">samples = 26</tspan><tspan x="0" y="2.4">value = [17, 9]</tspan></text></g>
<g id="n107" transform="translate(1373.06 971.5)"><use href="#lb" fill="#b0cbde"/><text class="tl"><tspan x="0" y="-1.6">gini = 0.483</tspan><tspan x="0" y="0.4">samples = 27</tspan><tspan x="0" y="2.4">value = [11, 16]</tspan></text></g>
<g id="n108" transform="translate(1403.04 971.5)"><use href="#lb" fill="#f1f0ef"/><text class="tl"><tspan x="0" y="-1.6">gini = 0.5</tspan><tspan x="0" y="0.4">samples = 24</tspan><tspan x="0" y="2.4">value = [12, 12]</tspan></text></g>
<g id="n109" transform="translate(1433.03 971.5)"><use href="#lb" fill="#83b5d9"/><text class="tl"><tspan x="0" y="-1.6">gini = 0.426</tspan><tspan x="0" y="0.4">samples = 26</tspan><tspan x="0" y="2.4">value = [8, 18]</tspan></text></g>
<g id="n110" transform="translate(1463.01 971.5)"><use href="#lb" fill="#83b5d9"/><text class="tl"><tspan x="0" y="-1.6">gini = 0.428</tspan><tspan x="0" y="0.4">samples = 29</tspan><tspan x="0" y="2.4">value = [9, 20]</tspan></text></g>
<g id="n111" transform="translate(1493 971.5)"><use href="#lb" fill="#569ad0"/><text class="tl"><tspan x="0" y="-1.6">gini = 0.26</tspan><tspan x="0" y="0.4">samples = 26</tspan><tspan x="0" y="2.4">value = [4, 22]</tspan></text></g>
<g id="n112" transform="translate(1522.98 971.5)"><use href="#lb" fill="#d49160"/><text class="tl"><tspan x="0" y="-1.6">gini = 0.355</tspan><tspan x="0" y="0.4">samples = 26</tspan><tspan x="0" y="2.4">value = [20, 6]</tspan></text></g>
<g id="n113" transform="translate(1552.97 971.5)"><use href="#lb" fill="#ddbea7"/><text class="tl"><tspan x="0" y="-1.6">gini = 0.472</tspan><tspan x="0" y="0.4">samples = 21</tspan><tspan x="0" y="2.4">value = [13, 8]</tspan></text></g>
<g id="n114" transform="translate(1582.95 971.5)"><use href="#lb" fill="#ddb99e"/><text class="tl"><tspan x="0" y="-1.6">gini = 0.469</tspan><tspan x="0" y="0.4">samples = 24</tspan><tspan x="0" y="2.4">value = [15, 9]</tspan></text></g>
<g id="n115" transform="translate(1612.94 971.5)"><use href="#lb" fill="#a7c7dd"/><text class="tl"><tspan x="0" y="-1.6">gini = 0.48</tspan><tspan x="0" y="0.4">samples = 25</tspan><tspan x="0" y="2.4">value = [10, 15]</tspan></text></g>
<g id="n116" transform="translate(1642.92 971.5)"><use href="#lb" fill="#a7c7dd"/><text class="tl"><tspan x="0" y="-1.6">gini = 0.476</tspan><tspan x="0" y="0.4">samples = 23</tspan><tspan x="0" y="2.4">value = [9, 14]</tspan></text></g>
<g id="n117" transform="translate(1672.91 971.5)"><use href="#lb" fill="#f1f0ef"/><text class="tl"><tspan x="0" y="-1.6">gini = 0.5</tspan><tspan x="0" y="0.4">samples = 24</tspan><tspan x="0" y="2.4">value = [12, 12]</tspan></text></g>
<g id="n118" transform="translate(1702.89 971.5)"><use href="#lb" fill="#a7c7dd"/><text class="tl"><tspan x="0" y="-1.6">gini = 0.473</tspan><tspan x="0" y="0.4">samples = 26</tspan><tspan x="0" y="2.4">value = [10, 16]</tspan></text></g>
<g id="n119" transform="translate(1732.88 971.5)"><use href="#lb" fill="#7ab0d7"/><text class="tl"><tspan x="0" y="-1.6">gini = 0.408</tspan><tspan x="0" y="0.4">samples = 28</tspan><tspan x="0" y="2.4">value = [8, 20]</tspan></text></g>
<g id="n120" transform="translate(1762.86 971.5)"><use href="#lb" fill="#f1f0ef"/><text class="tl"><tspan x="0" y="-1.6">gini = 0.5</tspan><tspan x="0" y="0.4">samples = 22</tspan><tspan x="0" y="2.4">value = [11, 11]</tspan></text></g>
<g id="n121" transform="translate(1792.85 971.5)"><use href="#lb" fill="#7ab0d7"/><text class="tl"><tspan x="0" y="-1.6">gini = 0.403</tspan><tspan x="0" y="0.4">samples = 25</tspan><tspan x="0" y="2.4">value = [7, 18]</tspan></text></g>
<g id="n122" transform="translate(1822.83 971.5)"><use href="#lb" fill="#7ab0d7"/><text class="tl"><tspan x="0" y="-1.6">gini = 0.417</tspan><tspan x="0" y="0.4">samples = 27</tspan><tspan x="0" y="2.4">value = [8, 19]</tspan></text></g>
<g id="n123" transform="translate(1852.82 971.5)"><use href="#lb" fill="#68a7d5"/><text class="tl"><tspan x="0" y="-1.6">gini = 0.346</tspan><tspan x="0" y="0.4">samples = 27</tspan><tspan x="0" y="2.4">value = [6, 21]</tspan></text></g>
<g id="n124" transform="translate(1882.8 971.5)"><use href="#lb" fill="#68a7d5"/><text class="tl"><tspan x="0" y="-1.6">gini = 0.358</tspan><tspan x="0" y="0.4">samples = 30</tspan><tspan x="0" y="2.4">value = [7, 23]</tspan></text></g>
<g id="n125" transform="translate(1912.79 971.5)"><use href="#lb" fill="#5e9fd1"/><text class="tl"><tspan x="0" y="-1.6">gini = 0.302</tspan><tspan x="0" y="0.4">samples = 27</tspan><tspan x="0" y="2.4">value = [5, 22]</tspan></text></g>
<g id="n126" transform="translate(1942.77 971.5)"><use href="#lb" fill="#5e9fd1"/><text class="tl"><tspan x="0" y="-1.6">gini = 0.32</tspan><tspan x="0" y="0.4">samples = 30</tspan><tspan x="0" y="2.4">value = [6, 24]</tspan></text></g>
<g id="n127" transform="translate(1972.76 971.5)"><use href="#lb" fill="#5e9fd1"/><text class="tl"><tspan x="0" y="-1.6">gini = 0.311</tspan><tspan x="0" y="0.4">samples = 26</tspan><tspan x="0" y="2.4">value = [5, 21]</tspan></text></g>
</svg>
